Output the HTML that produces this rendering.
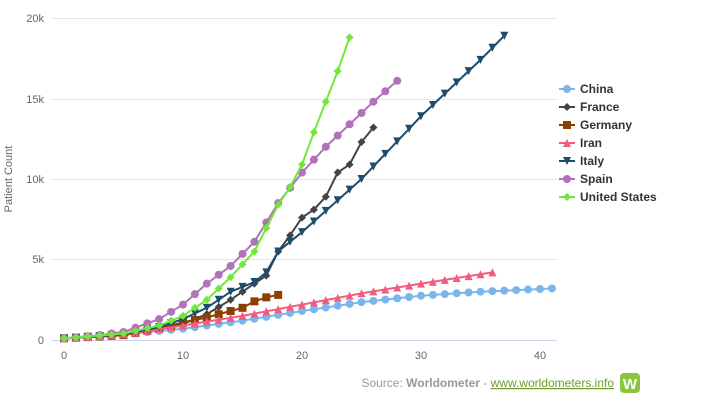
<!DOCTYPE html>
<html><head><meta charset="utf-8"><style>
body{margin:0;background:#fff;width:702px;height:408px;overflow:hidden;font-family:"Liberation Sans",sans-serif}
</style></head><body>
<svg id="s" width="702" height="408" xmlns="http://www.w3.org/2000/svg" font-family="Liberation Sans, sans-serif">
<g stroke="#e6e6e6" stroke-width="1">
<line x1="52" x2="557" y1="18.5" y2="18.5"/><line x1="52" x2="557" y1="99.5" y2="99.5"/>
<line x1="52" x2="557" y1="179.5" y2="179.5"/><line x1="52" x2="557" y1="259.5" y2="259.5"/>
</g>
<line x1="52" x2="557" y1="340.5" y2="340.5" stroke="#ccd6eb"/>
<g font-size="11" fill="#666" text-anchor="end">
<text x="44" y="22">20k</text><text x="44" y="103">15k</text><text x="44" y="183">10k</text><text x="44" y="263">5k</text><text x="44" y="344">0</text>
</g>
<g font-size="11" fill="#666" text-anchor="middle">
<text x="64" y="359">0</text><text x="183" y="359">10</text><text x="302" y="359">20</text><text x="421" y="359">30</text><text x="540" y="359">40</text>
</g>
<text transform="translate(12,179) rotate(-90)" font-size="11" fill="#666" text-anchor="middle">Patient Count</text>
<g id="series"></g>
<g id="legend" font-size="12" font-weight="bold" fill="#333"></g>
<text x="614" y="387" font-size="12" fill="#999" text-anchor="end">Source: <tspan font-weight="bold">Worldometer</tspan> - <tspan fill="#6a9c2e" text-decoration="underline">www.worldometers.info</tspan></text>
<rect x="620" y="373" width="20" height="20" rx="4" fill="#8cc63f"/>
<text x="630" y="389" font-size="15" font-weight="bold" fill="#fff" text-anchor="middle">W</text>
</svg>
<script>
function interp(pts,n){var a=[];for(var i=0;i<=n;i++){for(var j=0;j<pts.length-1;j++){var p=pts[j],q=pts[j+1];if(i>=p[0]&&i<=q[0]){a.push(p[1]+(q[1]-p[1])*(i-p[0])/(q[0]-p[0]||1));break;}}}return a;}
var S=[
["China","#7cb5ec","circle",interp([[0,0.1],[5,0.35],[10,0.7],[15,1.2],[20,1.8],[25,2.35],[30,2.75],[35,3.0],[41,3.2]],41)],
["France","#434348","diamond",interp([[0,0.1],[5,0.3],[10,1.0],[12,1.6],[14,2.5],[15,3.0],[16,3.5],[17,4.0],[18,5.5],[19,6.5],[20,7.6],[21,8.1],[22,8.9],[23,10.4],[24,10.9],[25,12.3],[26,13.2]],26)],
["Germany","#8b4000","square",interp([[0,0.1],[5,0.3],[8,0.7],[10,1.1],[12,1.4],[14,1.8],[15,2.0],[16,2.4],[17,2.65],[18,2.8]],18)],
["Iran","#f15c80","triangle",interp([[0,0.1],[5,0.35],[10,0.9],[15,1.5],[20,2.2],[25,2.9],[30,3.5],[36,4.2]],36)],
["Italy","#1c4d6b","tdown",interp([[0,0.1],[5,0.35],[8,0.8],[10,1.3],[12,2.0],[14,3.0],[15,3.3],[16,3.6],[17,4.2],[18,5.5],[20,6.7],[25,10.0],[30,13.9],[35,17.4],[37,18.9]],37)],
["Spain","#b072b8","circle",interp([[0,0.1],[3,0.3],[5,0.5],[8,1.3],[10,2.2],[12,3.5],[14,4.6],[16,6.1],[18,8.5],[20,10.4],[22,12.0],[24,13.4],[26,14.8],[28,16.1]],28)],
["United States","#6fe83a","diamond",interp([[0,0.1],[5,0.4],[8,0.9],[10,1.5],[12,2.5],[14,3.9],[16,5.5],[18,8.4],[19,9.5],[20,10.9],[21,12.9],[22,14.8],[23,16.7],[24,18.8]],24)]
];
function X(i){return 64+11.9*i}function Y(v){return 340-16.1*v}
function mk(t,x,y,c,r){r=r||4;
if(t=="circle")return '<circle cx="'+x+'" cy="'+y+'" r="'+r+'" fill="'+c+'"/>';
if(t=="square")return '<rect x="'+(x-r)+'" y="'+(y-r)+'" width="'+2*r+'" height="'+2*r+'" fill="'+c+'"/>';
if(t=="diamond")return '<polygon points="'+x+','+(y-r)+' '+(x+r)+','+y+' '+x+','+(y+r)+' '+(x-r)+','+y+'" fill="'+c+'"/>';
if(t=="triangle")return '<polygon points="'+x+','+(y-r)+' '+(x+r)+','+(y+r)+' '+(x-r)+','+(y+r)+'" fill="'+c+'"/>';
return '<polygon points="'+(x-r)+','+(y-r)+' '+(x+r)+','+(y-r)+' '+x+','+(y+r)+'" fill="'+c+'"/>';}
var h='',lg='';
S.forEach(function(s,k){var p=s[3].map(function(v,i){return X(i).toFixed(1)+','+Y(v).toFixed(1)}).join(' ');
h+='<polyline points="'+p+'" fill="none" stroke="'+s[1]+'" stroke-width="2"/>';
s[3].forEach(function(v,i){h+=mk(s[2],X(i),Y(v),s[1])});
var ly=89+18*k;lg+='<line x1="559" x2="575" y1="'+ly+'" y2="'+ly+'" stroke="'+s[1]+'" stroke-width="2"/>'+mk(s[2],567,ly,s[1])+'<text x="580" y="'+(ly+4)+'">'+s[0]+'</text>';});
document.getElementById('series').innerHTML=h;document.getElementById('legend').innerHTML=lg;
</script>
</body></html>
